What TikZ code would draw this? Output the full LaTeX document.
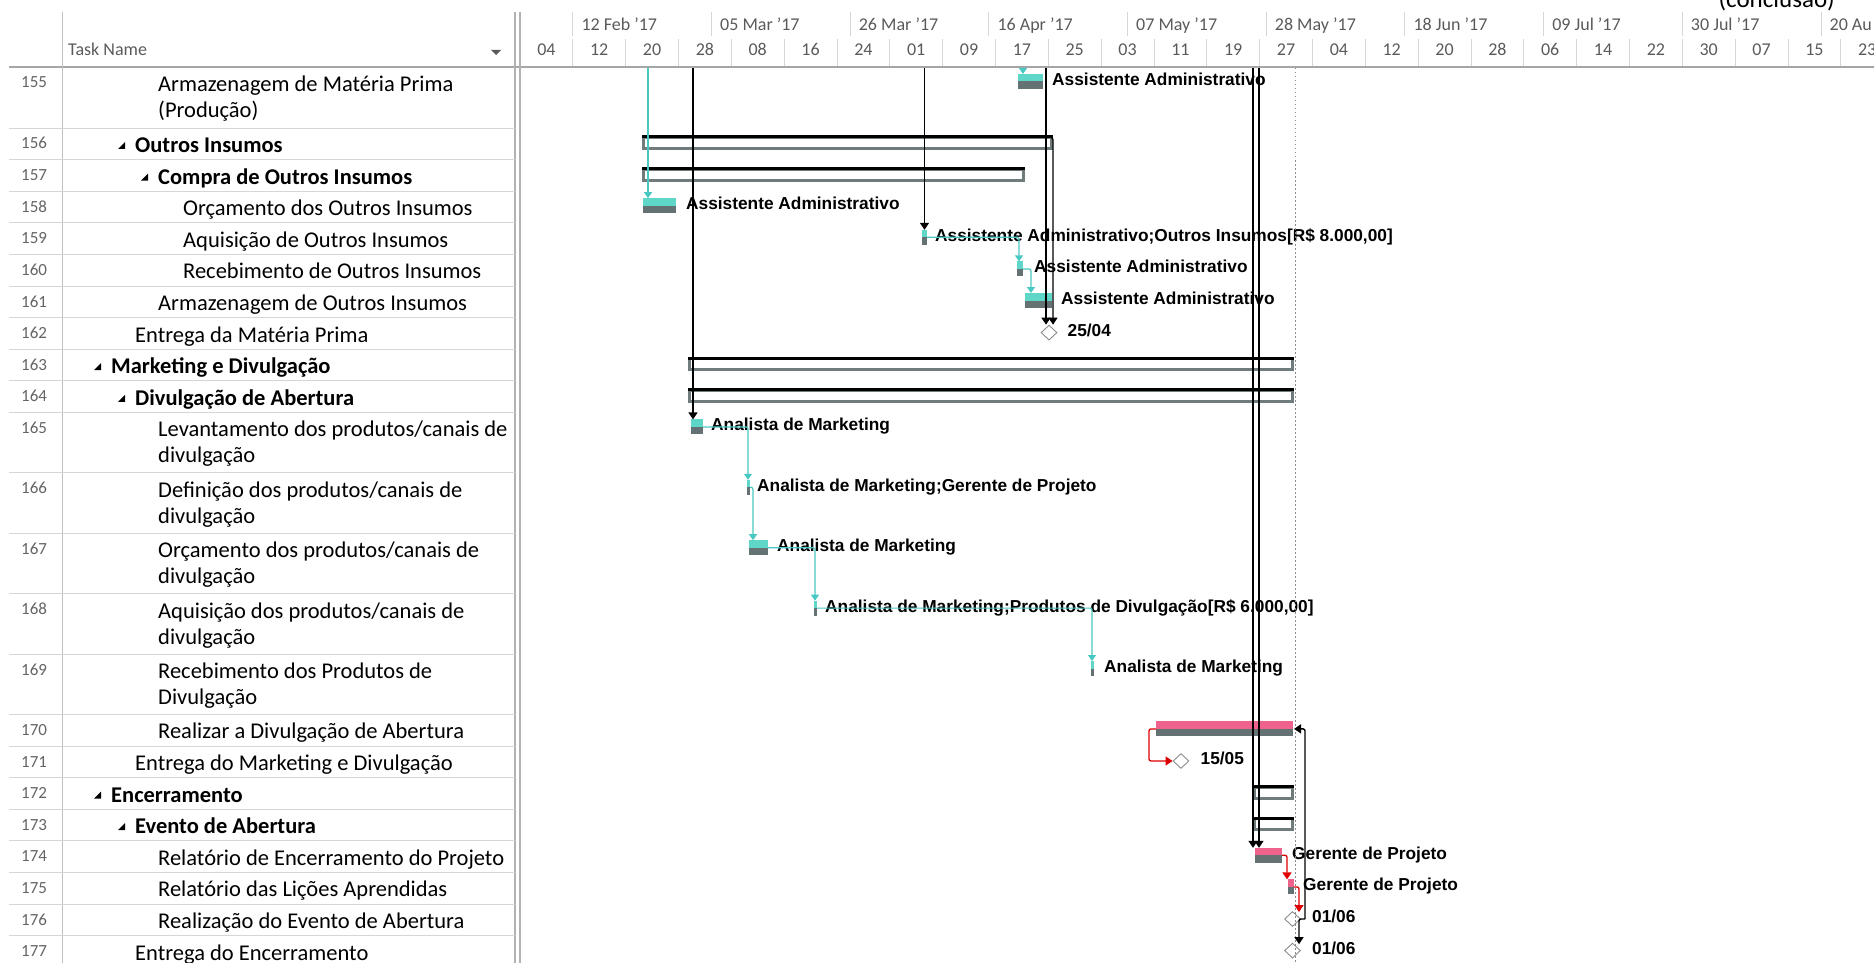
\documentclass[tikz,border=0pt]{standalone}
\usepackage{fontspec}
\setmainfont{Carlito}
\newfontfamily\barfont{Liberation Sans}
\usetikzlibrary{arrows.meta,calc,shapes.geometric,positioning}

\definecolor{barteal}{RGB}{94,214,200}
\definecolor{linkteal}{RGB}{72,200,194}
\definecolor{bargray}{RGB}{100,114,116}
\definecolor{critpink}{RGB}{238,98,140}
\definecolor{sumgray}{RGB}{112,124,124}
\definecolor{msgray}{RGB}{140,140,140}
\definecolor{gridgray}{RGB}{214,214,214}
\definecolor{hdrgray}{RGB}{90,90,90}
\definecolor{numgray}{RGB}{100,100,100}
\definecolor{linkred}{RGB}{222,0,0}

\newcommand\tabfont{\fontsize{22.5}{26}\selectfont}
\newcommand\numfont{\fontsize{17}{20}\selectfont}
\newcommand\hdrfont{\fontsize{18}{21}\selectfont}
\newcommand\lblfont{\barfont\bfseries\fontsize{17.3}{20}\selectfont}

\tikzset{
  tname/.style={anchor=base west, inner sep=0pt, font=\tabfont, text=black},
  tnum/.style={anchor=base west, inner sep=0pt, font=\numfont, text=numgray},
  thdr/.style={anchor=base west, inner sep=0pt, font=\hdrfont, text=hdrgray},
  blbl/.style={anchor=base west, inner sep=0pt, font=\lblfont, text=black},
  mstone/.style={diamond, draw=msgray, fill=white, line width=0.9pt, inner sep=0pt,
    minimum width=16pt, minimum height=15pt},
  blink/.style={draw=black, line width=1.4pt, -{Triangle[width=9pt,length=7pt]}},
  tlink/.style={draw=linkteal, line width=1.2pt, -{Triangle[width=8pt,length=6pt]},
    rounded corners=2pt},
  rlink/.style={draw=linkred, line width=1.3pt, -{Triangle[width=9pt,length=7pt]},
    rounded corners=2pt},
  grid/.style={draw=gridgray, line width=0.8pt},
}

% task bar: name, x start, x end, row top, colour of the upper half
\newcommand\gbar[5]{%
  \fill[#5] (#2,#4+7) rectangle (#3,#4+14.5);
  \fill[bargray] (#2,#4+14.5) rectangle (#3,#4+22);
  \coordinate (#1w) at (#2,#4+14.5);
  \coordinate (#1e) at (#3,#4+14.5);
  \coordinate (#1n) at (#2,#4+7);
}
% summary bar: name, x start, x end, row top
\newcommand\sbar[4]{%
  \draw[sumgray, line width=3pt] (#2+1.5,#4+9.5) rectangle (#3-1.5,#4+20.5);
  \draw[black, line width=3pt] (#2,#4+9) -- (#3,#4+9);
  \coordinate (#1e) at (#3,#4+9);
}

\begin{document}
\begin{tikzpicture}[x=1pt,y=-1pt]
  \useasboundingbox (0,0) rectangle (1874,963);
  \clip (0,0) rectangle (1874,963);

  % header
  \node[anchor=base east, inner sep=0pt, font=\fontsize{25}{28}\selectfont] (concl) at (1835,8) {(conclusão)};
  \node[thdr] (taskname) at (68,56) {Task Name};
  \fill[hdrgray] (491,50) -- (501,50) -- (496,55) -- cycle;
  \foreach \lab [count=\i from 0] in {12 Feb '17,05 Mar '17,26 Mar '17,16 Apr '17,07 May '17,
      28 May '17,18 Jun '17,09 Jul '17,30 Jul '17,20 Au} {
    \pgfmathsetmacro\xx{572.8+138.68*\i}
    \draw[grid] (\xx,12) -- (\xx,36);
    \node[thdr] (top\i) at (\xx+8.5,31) {\lab};
  }
  \foreach \lab [count=\i from 0] in {04,12,20,28,08,16,24,01,09,17,25,03,11,19,27,
      04,12,20,28,06,14,22,30,07,15,23} {
    \pgfmathsetmacro\xx{520+52.832*\i}
    \ifnum\i>0 \draw[grid] (\xx,39) -- (\xx,66); \fi
    \node[thdr, anchor=base] (bot\i) at (\xx+26.4,56) {\lab};
  }
  \draw[gray!70, line width=1.6pt] (9,67) -- (1874,67);
  \draw[gridgray!90!black, line width=0.9pt] (62,12) -- (62,963);
  \draw[gray!60, line width=1.1pt] (515,12) -- (515,963);
  \draw[gray!60, line width=1.1pt] (520,12) -- (520,963);

  % table
  \foreach \y in {128,159.6,191.2,222.8,254.4,286,317.6,349.2,380.8,412.4,472.8,533.2,593.6,
      654,714.4,746,777.6,809.2,840.8,872.4,904,935.6}
    \draw[grid] (9,\y) -- (515,\y);
  \foreach \n/\t/\x/\s/\txt in {
      155/67/158/0/{Armazenagem de Matéria Prima},
      156/128/135/1/{Outros Insumos},
      157/159.6/158/1/{Compra de Outros Insumos},
      158/191.2/183/0/{Orçamento dos Outros Insumos},
      159/222.8/183/0/{Aquisição de Outros Insumos},
      160/254.4/183/0/{Recebimento de Outros Insumos},
      161/286/158/0/{Armazenagem de Outros Insumos},
      162/317.6/135/0/{Entrega da Matéria Prima},
      163/349.2/111/1/{Marketing e Divulgação},
      164/380.8/135/1/{Divulgação de Abertura},
      165/412.4/158/0/{Levantamento dos produtos/canais de},
      166/472.8/158/0/{Definição dos produtos/canais de},
      167/533.2/158/0/{Orçamento dos produtos/canais de},
      168/593.6/158/0/{Aquisição dos produtos/canais de},
      169/654/158/0/{Recebimento dos Produtos de},
      170/714.4/158/0/{Realizar a Divulgação de Abertura},
      171/746/135/0/{Entrega do Marketing e Divulgação},
      172/777.6/111/1/{Encerramento},
      173/809.2/135/1/{Evento de Abertura},
      174/840.8/158/0/{Relatório de Encerramento do Projeto},
      175/872.4/158/0/{Relatório das Lições Aprendidas},
      176/904/158/0/{Realização do Evento de Abertura},
      177/935.6/135/0/{Entrega do Encerramento}} {
    \node[tnum] (num\n) at (21,\t+21) {\n};
    \ifnum\s=1
      \fill (\x-17,\t+21) -- (\x-10,\t+21) -- (\x-10,\t+14) -- cycle;
      \node[tname, font=\tabfont\bfseries] (row\n) at (\x,\t+24.5) {\txt};
    \else
      \node[tname] (row\n) at (\x,\t+24.5) {\txt};
    \fi
  }
  \node[tname] (row155b) at (158,117.5) {(Produção)};
  \node[tname] (row165b) at (158,462.9) {divulgação};
  \node[tname] (row166b) at (158,523.3) {divulgação};
  \node[tname] (row167b) at (158,583.7) {divulgação};
  \node[tname] (row168b) at (158,644.1) {divulgação};
  \node[tname] (row169b) at (158,704.5) {Divulgação};

  % summary bars
  \sbar{s156}{642}{1053}{128}
  \sbar{s157}{642}{1025}{159.6}
  \sbar{s163}{688}{1294}{349.2}
  \sbar{s164}{688}{1294}{380.8}
  \sbar{s172}{1253}{1294}{777.6}
  \sbar{s173}{1253}{1294}{809.2}

  % task bars
  \gbar{b155}{1018}{1043}{67}{barteal}
  \gbar{b158}{643}{676}{191.2}{barteal}
  \gbar{b159}{922}{927}{222.8}{barteal}
  \gbar{b160}{1017}{1023}{254.4}{barteal}
  \gbar{b161}{1025}{1052}{286}{barteal}
  \gbar{b165}{691}{703}{412.4}{barteal}
  \gbar{b166}{747}{750}{472.8}{barteal}
  \gbar{b167}{749}{768}{533.2}{barteal}
  \gbar{b168}{814}{817}{593.6}{barteal}
  \gbar{b169}{1091}{1094}{654}{barteal}
  \gbar{b170}{1156}{1293}{714.4}{critpink}
  \gbar{b174}{1255}{1282}{840.8}{critpink}
  \gbar{b175}{1288}{1294}{872.4}{critpink}

  % milestones
  \node[mstone] (m162) at (1049,332.6) {};
  \node[mstone] (m171) at (1181,761) {};
  \node[mstone] (m176) at (1292.5,919) {};
  \node[mstone] (m177) at (1292.5,950.6) {};

  % bar labels
  \node[blbl] (l155) at ($(b155e)+(9,4)$) {Assistente Administrativo};
  \node[blbl] (l158) at ($(b158e)+(10,4)$) {Assistente Administrativo};
  \node[blbl] (l159) at ($(b159e)+(8,4)$) {Assistente Administrativo;Outros Insumos[R\$ 8.000,00]};
  \node[blbl] (l160) at ($(b160e)+(11,4)$) {Assistente Administrativo};
  \node[blbl] (l161) at ($(b161e)+(9,4)$) {Assistente Administrativo};
  \node[blbl] (l162) at ($(m162.east)+(10,3.5)$) {25/04};
  \node[blbl] (l165) at ($(b165e)+(8,4)$) {Analista de Marketing};
  \node[blbl] (l166) at ($(b166e)+(7,4)$) {Analista de Marketing;Gerente de Projeto};
  \node[blbl] (l167) at ($(b167e)+(9,4)$) {Analista de Marketing};
  \node[blbl] (l168) at ($(b168e)+(8,4)$) {Analista de Marketing;Produtos de Divulgação[R\$ 6.000,00]};
  \node[blbl] (l169) at ($(b169e)+(10,4)$) {Analista de Marketing};
  \node[blbl] (l171) at ($(m171.east)+(11,3.5)$) {15/05};
  \node[blbl] (l174) at ($(b174e)+(10,4)$) {Gerente de Projeto};
  \node[blbl] (l175) at ($(b175e)+(9,4)$) {Gerente de Projeto};
  \node[blbl] (l176) at ($(m176.east)+(11,3.5)$) {01/06};
  \node[blbl] (l177) at ($(m177.east)+(11,3.5)$) {01/06};

  % status date
  \draw[msgray, line width=1pt, dash pattern=on 1.5pt off 2.5pt] (1295,68) -- (1295,963);

  % links coming from the previous page
  \coordinate (in155) at (1023,68);
  \coordinate (in158) at (648,68);
  \coordinate (in159) at (924.5,68);
  \coordinate (in162) at (1046,68);
  \coordinate (in165) at (693,68);
  \coordinate (in174a) at (1253,68);
  \coordinate (in174b) at (1259,68);
  \draw[tlink] (in155) -- (in155 |- b155n);
  \draw[tlink] (in158) -- (in158 |- b158n);
  \draw[blink] (in159) -- (in159 |- b159n);
  \draw[blink] (in162) -- (in162 |- m162.north);
  \draw[blink, rounded corners=3pt] ($(s156e)+(-3,0)$) -| ($(m162.north)+(4,0)$);
  \draw[blink] (in165) -- (in165 |- b165n);
  \draw[blink] (in174a) -- (in174a |- b174n);
  \draw[blink] (in174b) -- (in174b |- b174n);

  % links between tasks
  \draw[tlink] (b159e) -| ($(b160n)+(2,0)$);
  \draw[tlink] (b160e) -| ($(b161n)+(6,0)$);
  \draw[tlink] (b165e) -| ($(b166n)+(1,0)$);
  \draw[tlink] (b166e) -| ($(b167n)+(4,0)$);
  \draw[tlink] (b167e) -| ($(b168n)+(1,0)$);
  \draw[tlink] (b168e) -| ($(b169n)+(1,0)$);
  \draw[rlink] (b170w) -- ++(-7,0) |- (m171.west);
  \draw[rlink] (b174e) -| ($(b175n)+(-1,0)$);
  \draw[rlink] (b175e) -| ($(m176.north)+(6.5,1)$);
  \coordinate (j176) at (1305,919);
  \draw[blink, rounded corners=2pt] (j176) |- ($(b170e)+(1,0)$);
  \draw[blink, rounded corners=2pt] (j176) -| ($(m177.north)+(6.5,1.5)$);
\end{tikzpicture}
\end{document}
